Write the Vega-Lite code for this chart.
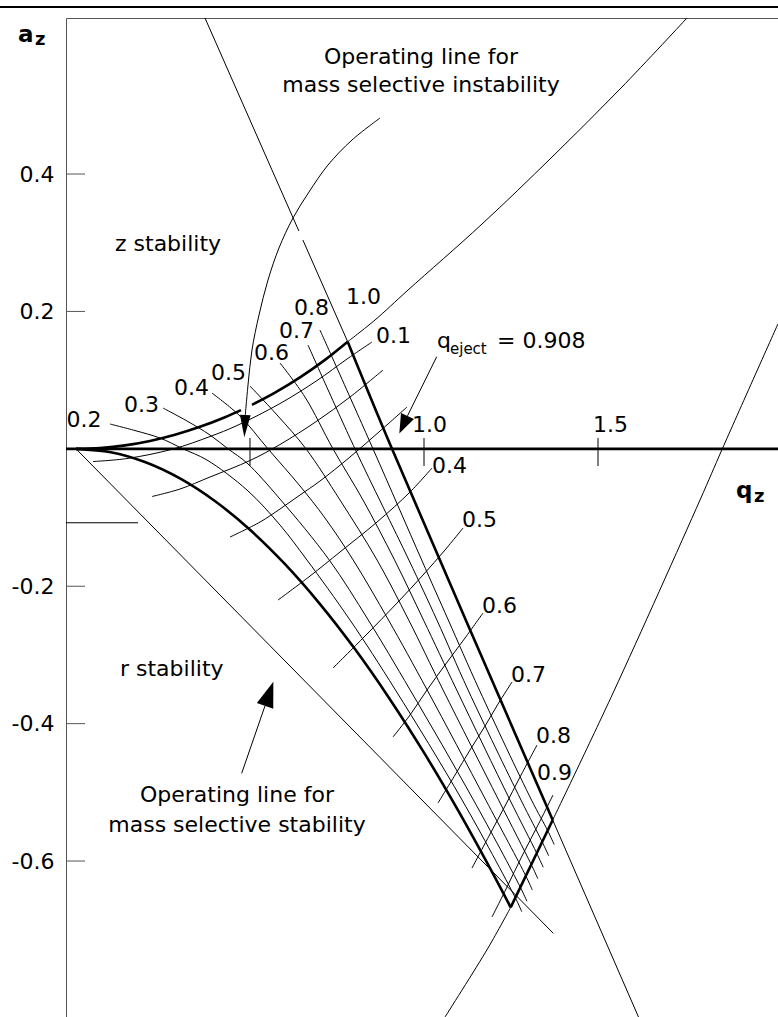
{
  "$schema": "https://vega.github.io/schema/vega-lite/v6.json",
  "width": 712,
  "height": 999,
  "padding": {"left": 66, "top": 18, "right": 0, "bottom": 0},
  "autosize": {"type": "none"},
  "background": "white",
  "config": {"view": {"stroke": null}, "font": "DejaVu Sans"},
  "datasets": {
    "thin": [
      {"s": "L1a", "i": 0, "q": 0.3707, "a": 0.6271}, {"s": "L1a", "i": 1, "q": 0.6405, "a": 0.3170},
      {"s": "L1b", "i": 0, "q": 0.6520, "a": 0.3039}, {"s": "L1b", "i": 1, "q": 0.7807, "a": 0.1559},
      {"s": "L1c", "i": 0, "q": 1.3698, "a": -0.5403}, {"s": "L1c", "i": 1, "q": 1.6164, "a": -0.8271},
      {"s": "L2t", "i": 0, "q": 0.7807, "a": 0.1559}, {"s": "L2t", "i": 1, "q": 0.8592, "a": 0.1875}, {"s": "L2t", "i": 2, "q": 0.9540, "a": 0.2311}, {"s": "L2t", "i": 3, "q": 1.1667, "a": 0.3272}, {"s": "L2t", "i": 4, "q": 1.3678, "a": 0.4247}, {"s": "L2t", "i": 5, "q": 1.5661, "a": 0.5252}, {"s": "L2t", "i": 6, "q": 1.7557, "a": 0.6271},
      {"s": "L3a", "i": 0, "q": 1.0603, "a": -0.8271}, {"s": "L3a", "i": 1, "q": 1.1839, "a": -0.7266}, {"s": "L3a", "i": 2, "q": 1.2491, "a": -0.6674},
      {"s": "L3b", "i": 0, "q": 1.3698, "a": -0.5403}, {"s": "L3b", "i": 1, "q": 1.5431, "a": -0.3555}, {"s": "L3b", "i": 2, "q": 1.7931, "a": -0.0745}, {"s": "L3b", "i": 3, "q": 1.8572, "a": 0.0}, {"s": "L3b", "i": 4, "q": 2.0172, "a": 0.1820},
      {"s": "L4", "i": 0, "q": 0.0, "a": 0.0}, {"s": "L4", "i": 1, "q": 1.3716, "a": -0.7052},
      {"s": "arc", "i": 0, "q": 0.8736, "a": 0.4815}, {"s": "arc", "i": 1, "q": 0.7931, "a": 0.4495}, {"s": "arc", "i": 2, "q": 0.7241, "a": 0.4131}, {"s": "arc", "i": 3, "q": 0.6695, "a": 0.3738}, {"s": "arc", "i": 4, "q": 0.6236, "a": 0.3360}, {"s": "arc", "i": 5, "q": 0.5833, "a": 0.2923}, {"s": "arc", "i": 6, "q": 0.5517, "a": 0.2457}, {"s": "arc", "i": 7, "q": 0.5259, "a": 0.1948}, {"s": "arc", "i": 8, "q": 0.5057, "a": 0.1438}, {"s": "arc", "i": 9, "q": 0.4943, "a": 0.0929}, {"s": "arc", "i": 10, "q": 0.4865, "a": 0.0492},
      {"s": "stabshaft", "i": 0, "q": 0.4761, "a": -0.4723}, {"s": "stabshaft", "i": 1, "q": 0.5431, "a": -0.3741},
      {"s": "ejectshaft", "i": 0, "q": 1.0365, "a": 0.1341}, {"s": "ejectshaft", "i": 1, "q": 0.9526, "a": 0.0480},
      {"s": "short", "i": 0, "q": -0.0287, "a": -0.1076}, {"s": "short", "i": 1, "q": 0.1782, "a": -0.1076},
      {"s": "r1", "i": 0, "q": 0.0489, "a": -0.0185}, {"s": "r1", "i": 1, "q": 0.1466, "a": -0.0141}, {"s": "r1", "i": 2, "q": 0.2787, "a": -0.0003}, {"s": "r1", "i": 3, "q": 0.3851, "a": 0.0179}, {"s": "r1", "i": 4, "q": 0.4626, "a": 0.0339}, {"s": "r1", "i": 5, "q": 0.5862, "a": 0.0659}, {"s": "r1", "i": 6, "q": 0.6925, "a": 0.0994}, {"s": "r1", "i": 7, "q": 0.7787, "a": 0.1307}, {"s": "r1", "i": 8, "q": 0.8506, "a": 0.1555},
      {"s": "r2", "i": 0, "q": 0.2184, "a": -0.0694}, {"s": "r2", "i": 1, "q": 0.2989, "a": -0.0585}, {"s": "r2", "i": 2, "q": 0.3851, "a": -0.0410}, {"s": "r2", "i": 3, "q": 0.5000, "a": -0.0170}, {"s": "r2", "i": 4, "q": 0.5862, "a": 0.0063}, {"s": "r2", "i": 5, "q": 0.6925, "a": 0.0405}, {"s": "r2", "i": 6, "q": 0.7874, "a": 0.0754}, {"s": "r2", "i": 7, "q": 0.8822, "a": 0.1147},
      {"s": "r3", "i": 0, "q": 0.4425, "a": -0.1284}, {"s": "r3", "i": 1, "q": 0.5287, "a": -0.1066}, {"s": "r3", "i": 2, "q": 0.5862, "a": -0.0876}, {"s": "r3", "i": 3, "q": 0.6437, "a": -0.0672}, {"s": "r3", "i": 4, "q": 0.7011, "a": -0.0469}, {"s": "r3", "i": 5, "q": 0.7874, "a": -0.0119}, {"s": "r3", "i": 6, "q": 0.8736, "a": 0.0259}, {"s": "r3", "i": 7, "q": 0.9511, "a": 0.0608},
      {"s": "r4", "i": 0, "q": 0.5805, "a": -0.2201}, {"s": "r4", "i": 1, "q": 0.6724, "a": -0.1852}, {"s": "r4", "i": 2, "q": 0.7586, "a": -0.1502}, {"s": "r4", "i": 3, "q": 0.8649, "a": -0.1066}, {"s": "r4", "i": 4, "q": 0.9598, "a": -0.0629}, {"s": "r4", "i": 5, "q": 1.0230, "a": -0.0279},
      {"s": "r5", "i": 0, "q": 0.7385, "a": -0.3191}, {"s": "r5", "i": 1, "q": 0.8305, "a": -0.2725}, {"s": "r5", "i": 2, "q": 0.9224, "a": -0.2245}, {"s": "r5", "i": 3, "q": 0.9971, "a": -0.1837}, {"s": "r5", "i": 4, "q": 1.0603, "a": -0.1473}, {"s": "r5", "i": 5, "q": 1.1121, "a": -0.1153},
      {"s": "r6", "i": 0, "q": 0.9109, "a": -0.4195}, {"s": "r6", "i": 1, "q": 0.9598, "a": -0.3875}, {"s": "r6", "i": 2, "q": 1.0086, "a": -0.3511}, {"s": "r6", "i": 3, "q": 1.0603, "a": -0.3147}, {"s": "r6", "i": 4, "q": 1.1178, "a": -0.2754}, {"s": "r6", "i": 5, "q": 1.1695, "a": -0.2390},
      {"s": "r7", "i": 0, "q": 1.0402, "a": -0.5156}, {"s": "r7", "i": 1, "q": 1.0891, "a": -0.4748}, {"s": "r7", "i": 2, "q": 1.1322, "a": -0.4384}, {"s": "r7", "i": 3, "q": 1.1753, "a": -0.4035}, {"s": "r7", "i": 4, "q": 1.2126, "a": -0.3715}, {"s": "r7", "i": 5, "q": 1.2529, "a": -0.3394},
      {"s": "r8", "i": 0, "q": 1.1379, "a": -0.6102}, {"s": "r8", "i": 1, "q": 1.1897, "a": -0.5607}, {"s": "r8", "i": 2, "q": 1.2328, "a": -0.5199}, {"s": "r8", "i": 3, "q": 1.2759, "a": -0.4777}, {"s": "r8", "i": 4, "q": 1.3247, "a": -0.4312},
      {"s": "r9", "i": 0, "q": 1.1954, "a": -0.6815}, {"s": "r9", "i": 1, "q": 1.2385, "a": -0.6378}, {"s": "r9", "i": 2, "q": 1.2816, "a": -0.5927}, {"s": "r9", "i": 3, "q": 1.3276, "a": -0.5476}, {"s": "r9", "i": 4, "q": 1.3707, "a": -0.5039},
      {"s": "z2", "i": 0, "q": 0.0977, "a": 0.0361}, {"s": "z2", "i": 1, "q": 0.1695, "a": 0.0266}, {"s": "z2", "i": 2, "q": 0.2414, "a": 0.0157}, {"s": "z2", "i": 3, "q": 0.3075, "a": 0.0}, {"s": "z2", "i": 4, "q": 0.3764, "a": -0.0163}, {"s": "z2", "i": 5, "q": 0.4914, "a": -0.0600}, {"s": "z2", "i": 6, "q": 0.5862, "a": -0.1109}, {"s": "z2", "i": 7, "q": 0.6638, "a": -0.1619}, {"s": "z2", "i": 8, "q": 0.7874, "a": -0.2492}, {"s": "z2", "i": 9, "q": 0.9181, "a": -0.3511}, {"s": "z2", "i": 10, "q": 1.1095, "a": -0.5112}, {"s": "z2", "i": 11, "q": 1.2624, "a": -0.6534}, {"s": "z2", "i": 12, "q": 1.2810, "a": -0.6738},
      {"s": "z3", "i": 0, "q": 0.2500, "a": 0.0594}, {"s": "z3", "i": 1, "q": 0.3190, "a": 0.0405}, {"s": "z3", "i": 2, "q": 0.3851, "a": 0.0201}, {"s": "z3", "i": 3, "q": 0.4368, "a": 0.0}, {"s": "z3", "i": 4, "q": 0.4914, "a": -0.0207}, {"s": "z3", "i": 5, "q": 0.5862, "a": -0.0731}, {"s": "z3", "i": 6, "q": 0.7279, "a": -0.1619}, {"s": "z3", "i": 7, "q": 0.8399, "a": -0.2492}, {"s": "z3", "i": 8, "q": 0.9603, "a": -0.3511}, {"s": "z3", "i": 9, "q": 1.1422, "a": -0.5112}, {"s": "z3", "i": 10, "q": 1.2769, "a": -0.6382}, {"s": "z3", "i": 11, "q": 1.2957, "a": -0.6585},
      {"s": "z4", "i": 0, "q": 0.3908, "a": 0.0812}, {"s": "z4", "i": 1, "q": 0.4713, "a": 0.0477}, {"s": "z4", "i": 2, "q": 0.5517, "a": 0.0}, {"s": "z4", "i": 3, "q": 0.6437, "a": -0.0541}, {"s": "z4", "i": 4, "q": 0.7155, "a": -0.1007}, {"s": "z4", "i": 5, "q": 0.7966, "a": -0.1619}, {"s": "z4", "i": 6, "q": 0.8980, "a": -0.2492}, {"s": "z4", "i": 7, "q": 1.0092, "a": -0.3511}, {"s": "z4", "i": 8, "q": 1.1776, "a": -0.5112}, {"s": "z4", "i": 9, "q": 1.2926, "a": -0.6216}, {"s": "z4", "i": 10, "q": 1.3112, "a": -0.6421},
      {"s": "z5", "i": 0, "q": 0.5000, "a": 0.0914}, {"s": "z5", "i": 1, "q": 0.5805, "a": 0.0477}, {"s": "z5", "i": 2, "q": 0.6609, "a": 0.0}, {"s": "z5", "i": 3, "q": 0.7586, "a": -0.0745}, {"s": "z5", "i": 4, "q": 0.8652, "a": -0.1619}, {"s": "z5", "i": 5, "q": 0.9560, "a": -0.2492}, {"s": "z5", "i": 6, "q": 1.0549, "a": -0.3511}, {"s": "z5", "i": 7, "q": 1.2144, "a": -0.5112}, {"s": "z5", "i": 8, "q": 1.3082, "a": -0.6051}, {"s": "z5", "i": 9, "q": 1.3270, "a": -0.6255},
      {"s": "z6", "i": 0, "q": 0.5862, "a": 0.1249}, {"s": "z6", "i": 1, "q": 0.6580, "a": 0.0754}, {"s": "z6", "i": 2, "q": 0.7385, "a": 0.0}, {"s": "z6", "i": 3, "q": 0.8247, "a": -0.0745}, {"s": "z6", "i": 4, "q": 0.9155, "a": -0.1619}, {"s": "z6", "i": 5, "q": 0.9986, "a": -0.2492}, {"s": "z6", "i": 6, "q": 1.0940, "a": -0.3511}, {"s": "z6", "i": 7, "q": 1.2471, "a": -0.5112}, {"s": "z6", "i": 8, "q": 1.3239, "a": -0.5886}, {"s": "z6", "i": 9, "q": 1.3425, "a": -0.6090},
      {"s": "z7", "i": 0, "q": 0.6667, "a": 0.1511}, {"s": "z7", "i": 1, "q": 0.8017, "a": 0.0}, {"s": "z7", "i": 2, "q": 0.9566, "a": -0.1619}, {"s": "z7", "i": 3, "q": 1.0371, "a": -0.2492}, {"s": "z7", "i": 4, "q": 1.1267, "a": -0.3511}, {"s": "z7", "i": 5, "q": 1.2787, "a": -0.5112}, {"s": "z7", "i": 6, "q": 1.3396, "a": -0.5721}, {"s": "z7", "i": 7, "q": 1.3583, "a": -0.5924},
      {"s": "z8", "i": 0, "q": 0.7011, "a": 0.1729}, {"s": "z8", "i": 1, "q": 0.8534, "a": 0.0}, {"s": "z8", "i": 2, "q": 0.9934, "a": -0.1619}, {"s": "z8", "i": 3, "q": 1.0698, "a": -0.2492}, {"s": "z8", "i": 4, "q": 1.1592, "a": -0.3511}, {"s": "z8", "i": 5, "q": 1.3089, "a": -0.5112}, {"s": "z8", "i": 6, "q": 1.3553, "a": -0.5556}, {"s": "z8", "i": 7, "q": 1.3741, "a": -0.5760}
    ],
    "thick": [
      {"s": "U1", "i": 0, "q": 0.0, "a": 0.0}, {"s": "U1", "i": 1, "q": 0.0690, "a": 0.0013}, {"s": "U1", "i": 2, "q": 0.1408, "a": 0.0050}, {"s": "U1", "i": 3, "q": 0.2126, "a": 0.0115}, {"s": "U1", "i": 4, "q": 0.2845, "a": 0.0205}, {"s": "U1", "i": 5, "q": 0.3563, "a": 0.0320}, {"s": "U1", "i": 6, "q": 0.4282, "a": 0.0460}, {"s": "U1", "i": 7, "q": 0.4741, "a": 0.0563},
      {"s": "U2", "i": 0, "q": 0.5057, "a": 0.0640}, {"s": "U2", "i": 1, "q": 0.5718, "a": 0.0818}, {"s": "U2", "i": 2, "q": 0.6437, "a": 0.1040}, {"s": "U2", "i": 3, "q": 0.7155, "a": 0.1295}, {"s": "U2", "i": 4, "q": 0.7807, "a": 0.1559},
      {"s": "R", "i": 0, "q": 0.7807, "a": 0.1559}, {"s": "R", "i": 1, "q": 0.908, "a": 0.0}, {"s": "R", "i": 2, "q": 1.3698, "a": -0.5403},
      {"s": "E", "i": 0, "q": 1.2491, "a": -0.6674}, {"s": "E", "i": 1, "q": 1.3698, "a": -0.5403},
      {"s": "B", "i": 0, "q": 0.0, "a": 0.0}, {"s": "B", "i": 1, "q": 0.1, "a": -0.0049}, {"s": "B", "i": 2, "q": 0.2, "a": -0.0195}, {"s": "B", "i": 3, "q": 0.3, "a": -0.0434}, {"s": "B", "i": 4, "q": 0.4, "a": -0.0763}, {"s": "B", "i": 5, "q": 0.5, "a": -0.1178}, {"s": "B", "i": 6, "q": 0.6, "a": -0.1675}, {"s": "B", "i": 7, "q": 0.7, "a": -0.2252}, {"s": "B", "i": 8, "q": 0.8, "a": -0.2904}, {"s": "B", "i": 9, "q": 0.9, "a": -0.3629}, {"s": "B", "i": 10, "q": 1.0, "a": -0.4422}, {"s": "B", "i": 11, "q": 1.1, "a": -0.5281}, {"s": "B", "i": 12, "q": 1.2, "a": -0.6201}, {"s": "B", "i": 13, "q": 1.2491, "a": -0.6674},
      {"s": "axis", "i": 0, "q": -0.0287, "a": 0.0}, {"s": "axis", "i": 1, "q": 2.0172, "a": 0.0}
    ],
    "yticks": [
      {"q": -0.0287, "q2": 0.0259, "a": 0.4}, {"q": -0.0287, "q2": 0.0259, "a": 0.2}, {"q": -0.0287, "q2": 0.0259, "a": -0.2}, {"q": -0.0287, "q2": 0.0259, "a": -0.4}, {"q": -0.0287, "q2": 0.0259, "a": -0.6}
    ],
    "xticks": [
      {"q": 0.5, "a": 0.0157, "a2": -0.025}, {"q": 1.0, "a": 0.0157, "a2": -0.025}, {"q": 1.5, "a": 0.0157, "a2": -0.025}
    ],
    "page": [{"q": -0.2184, "q2": 2.0172, "a": 0.6431}],
    "heads": [
      {"h": "inst", "q": 0.4851, "a": 0.0329},
      {"h": "stab", "q": 0.5552, "a": -0.3566},
      {"h": "eject", "q": 0.9408, "a": 0.0352}
    ],
    "labels": [
      {"t": "0.2", "q": -0.0273, "a": 0.0317},
      {"t": "0.3", "q": 0.1379, "a": 0.0536},
      {"t": "0.4", "q": 0.2816, "a": 0.0783},
      {"t": "0.5", "q": 0.3879, "a": 0.1001},
      {"t": "0.6", "q": 0.5115, "a": 0.1293},
      {"t": "0.7", "q": 0.5833, "a": 0.1613},
      {"t": "0.8", "q": 0.6264, "a": 0.1948},
      {"t": "1.0", "q": 0.7759, "a": 0.2108},
      {"t": "0.1", "q": 0.8621, "a": 0.1540},
      {"t": "0.4", "q": 1.0230, "a": -0.0352},
      {"t": "0.5", "q": 1.1092, "a": -0.1138},
      {"t": "0.6", "q": 1.1667, "a": -0.2390},
      {"t": "0.7", "q": 1.2500, "a": -0.3394},
      {"t": "0.8", "q": 1.3218, "a": -0.4282},
      {"t": "0.9", "q": 1.3247, "a": -0.4821},
      {"t": "1.0", "q": 0.9655, "a": 0.0245},
      {"t": "1.5", "q": 1.4856, "a": 0.0245},
      {"t": "z stability", "q": 0.1121, "a": 0.2879},
      {"t": "r stability", "q": 0.1264, "a": -0.3307},
      {"t": "q", "q": 1.0374, "a": 0.1467},
      {"t": "= 0.908", "q": 1.2098, "a": 0.1467}
    ],
    "centered": [
      {"t": "Operating line for", "q": 0.9914, "a": 0.5601},
      {"t": "mass selective instability", "q": 0.9914, "a": 0.5194},
      {"t": "Operating line for", "q": 0.4626, "a": -0.5141},
      {"t": "mass selective stability", "q": 0.4626, "a": -0.5578}
    ],
    "small": [{"t": "eject", "q": 1.0747, "a": 0.1380}],
    "bold": [
      {"t": "a", "q": -0.1667, "a": 0.5921},
      {"t": "q", "q": 1.8966, "a": -0.0716}
    ],
    "boldsub": [
      {"t": "z", "q": -0.1178, "a": 0.5878},
      {"t": "z", "q": 1.9483, "a": -0.0774}
    ]
  },
  "encoding": {
    "x": {
      "field": "q", "type": "quantitative",
      "scale": {"domain": [-0.0287, 2.0172], "nice": false, "zero": false},
      "axis": {"orient": "top", "labels": false, "ticks": false, "grid": false, "title": null, "domainColor": "#555555", "domainWidth": 1}
    },
    "y": {
      "field": "a", "type": "quantitative",
      "scale": {"domain": [-0.827, 0.6271], "nice": false, "zero": false},
      "axis": {
        "orient": "left", "values": [-0.6, -0.4, -0.2, 0.2, 0.4], "grid": false, "title": null,
        "ticks": false, "tickSize": 0, "labelPadding": 12,
        "labelExpr": "datum.value < 0 ? '-' + format(-datum.value, '.1f') : format(datum.value, '.1f')",
        "labelFont": "DejaVu Sans", "labelFontSize": 22, "labelColor": "black",
        "domainColor": "#555555", "domainWidth": 1
      }
    }
  },
  "layer": [
    {
      "data": {"name": "page"},
      "mark": {"type": "rule", "color": "black", "strokeWidth": 2},
      "encoding": {"x2": {"field": "q2"}}
    },
    {
      "data": {"name": "yticks"},
      "mark": {"type": "rule", "color": "#555555", "strokeWidth": 1},
      "encoding": {"x2": {"field": "q2"}}
    },
    {
      "data": {"name": "xticks"},
      "mark": {"type": "rule", "color": "black", "strokeWidth": 1},
      "encoding": {"y2": {"field": "a2"}}
    },
    {
      "data": {"name": "thin"},
      "mark": {"type": "line", "interpolate": "catmull-rom", "color": "black", "strokeWidth": 1},
      "encoding": {"detail": {"field": "s", "type": "nominal"}, "order": {"field": "i", "type": "quantitative"}}
    },
    {
      "data": {"name": "thick"},
      "mark": {"type": "line", "interpolate": "catmull-rom", "color": "black", "strokeWidth": 2.6, "strokeJoin": "miter"},
      "encoding": {"detail": {"field": "s", "type": "nominal"}, "order": {"field": "i", "type": "quantitative"}}
    },
    {
      "data": {"name": "heads"},
      "transform": [{"filter": "datum.h === 'inst'"}],
      "mark": {"type": "point", "shape": "M0,-1L0.48,1L-0.48,1Z", "size": 497, "angle": 182.6, "filled": true, "color": "black", "opacity": 1, "strokeWidth": 0}
    },
    {
      "data": {"name": "heads"},
      "transform": [{"filter": "datum.h === 'stab'"}],
      "mark": {"type": "point", "shape": "M0,-1L0.68,1L-0.68,1Z", "size": 650, "angle": 19, "filled": true, "color": "black", "opacity": 1, "strokeWidth": 0}
    },
    {
      "data": {"name": "heads"},
      "transform": [{"filter": "datum.h === 'eject'"}],
      "mark": {"type": "point", "shape": "M0,-1L0.74,1L-0.74,1Z", "size": 372, "angle": 205, "filled": true, "color": "black", "opacity": 1, "strokeWidth": 0}
    },
    {
      "data": {"name": "labels"},
      "mark": {"type": "text", "align": "left", "baseline": "alphabetic", "font": "DejaVu Sans", "fontSize": 22, "color": "black"},
      "encoding": {"text": {"field": "t", "type": "nominal"}}
    },
    {
      "data": {"name": "centered"},
      "mark": {"type": "text", "align": "center", "baseline": "alphabetic", "font": "DejaVu Sans", "fontSize": 22, "color": "black"},
      "encoding": {"text": {"field": "t", "type": "nominal"}}
    },
    {
      "data": {"name": "small"},
      "mark": {"type": "text", "align": "left", "baseline": "alphabetic", "font": "DejaVu Sans", "fontSize": 15, "color": "black"},
      "encoding": {"text": {"field": "t", "type": "nominal"}}
    },
    {
      "data": {"name": "bold"},
      "mark": {"type": "text", "align": "left", "baseline": "alphabetic", "font": "DejaVu Sans", "fontSize": 23, "fontWeight": "bold", "color": "black"},
      "encoding": {"text": {"field": "t", "type": "nominal"}}
    },
    {
      "data": {"name": "boldsub"},
      "mark": {"type": "text", "align": "left", "baseline": "alphabetic", "font": "DejaVu Sans", "fontSize": 18, "fontWeight": "bold", "color": "black"},
      "encoding": {"text": {"field": "t", "type": "nominal"}}
    }
  ]
}
